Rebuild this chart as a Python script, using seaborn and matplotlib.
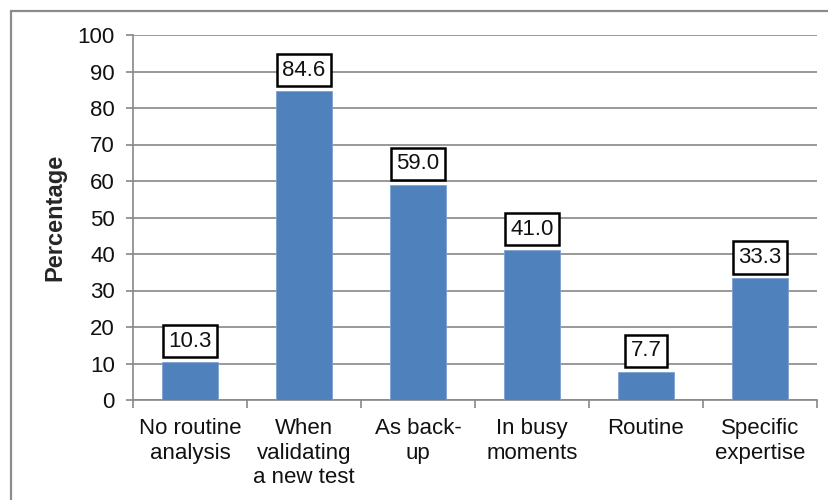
import matplotlib
matplotlib.use("Agg")
import matplotlib.pyplot as plt
import seaborn as sns
import pandas as pd
from matplotlib.patches import Rectangle

categories = ["No routine\nanalysis", "When\nvalidating\na new test", "As back-\nup",
              "In busy\nmoments", "Routine", "Specific\nexpertise"]
values = [10.3, 84.6, 59.0, 41.0, 7.7, 33.3]
yticks = [0, 10, 20, 30, 40, 50, 60, 70, 80, 90, 100]

sns.set_theme(style="white")
plt.rcParams['font.family'] = ['Liberation Sans', 'DejaVu Sans']

W, H = 829, 500
fig = plt.figure(figsize=(W / 100, H / 100), dpi=100)
ax = fig.add_axes([133 / W, 1 - 400 / H, (817 - 133) / W, (400 - 35) / H])

df = pd.DataFrame({"cat": categories, "val": values})
sns.barplot(data=df, x="cat", y="val", ax=ax, color="#4F81BD", saturation=1,
            width=0.49, edgecolor="#7FA2D4", linewidth=0.6, zorder=3)

grid_c = "#888888"
ax.set_ylim(0, 100)
ax.set_xlim(-0.5, len(categories) - 0.5)
ax.set_yticks(yticks)
ax.set_yticklabels([str(t) for t in yticks], fontsize=16, color="#111111")
ax.yaxis.grid(True, color=grid_c, linewidth=1.2, zorder=0)
ax.set_axisbelow(True)
ax.tick_params(axis="y", direction="out", length=5, width=1.2, color=grid_c, pad=8, left=True)

ax.set_xticks(range(len(categories)))
ax.set_xticklabels(categories, fontsize=16, color="#111111", linespacing=1.22)
ax.set_xticks([i - 0.5 for i in range(len(categories) + 1)], minor=True)
ax.tick_params(axis="x", which="major", length=0, pad=13)
ax.tick_params(axis="x", which="minor", direction="out", length=6, width=1.2, color=grid_c, bottom=True)

for s in ["top", "right"]:
    ax.spines[s].set_visible(False)
for s in ["left", "bottom"]:
    ax.spines[s].set_color(grid_c)
    ax.spines[s].set_linewidth(1.2)

ax.set_xlabel("")
ax.set_ylabel("Percentage", fontsize=17, fontweight="bold", labelpad=8)

for i, v in enumerate(values):
    ax.annotate(f"{v:.1f}", xy=(i, v), xytext=(0, 21), textcoords="offset pixels",
                ha="center", va="center", fontsize=16, color="#111111",
                bbox=dict(boxstyle="square,pad=0.25", fc="white", ec="black", lw=1.8),
                zorder=5)

fig.patches.append(Rectangle((11 / W, -0.1), 1.2, 1 - 11 / H + 0.1, transform=fig.transFigure,
                             fill=False, edgecolor="#8c8c8c", linewidth=1.6, zorder=10))

fig.savefig("out.png", dpi=100)
